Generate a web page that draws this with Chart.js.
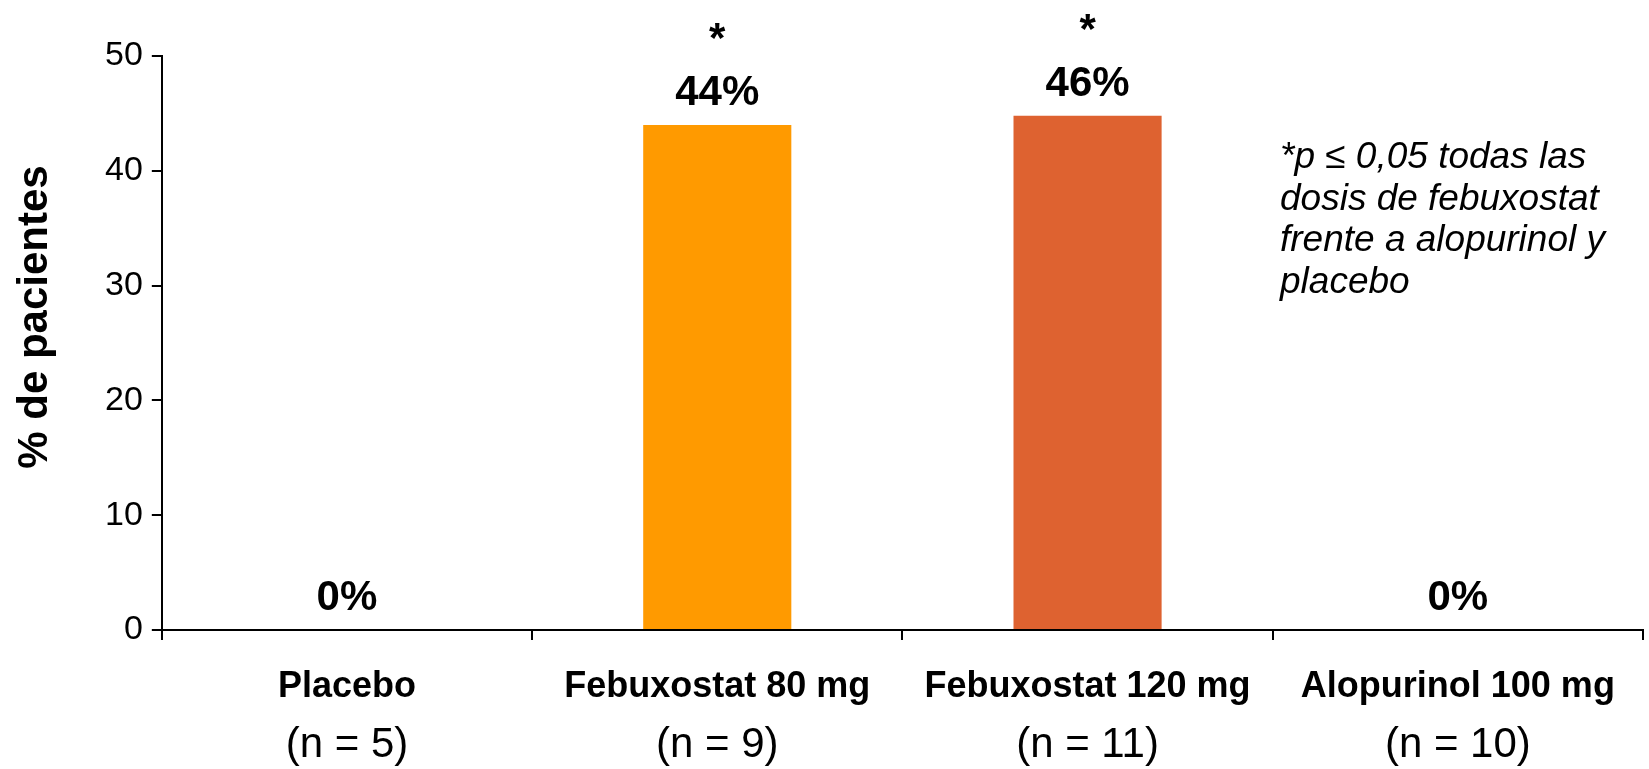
<!DOCTYPE html>
<html lang="es">
<head>
<meta charset="utf-8">
<title>% de pacientes</title>
<script src="https://cdn.jsdelivr.net/npm/chart.js@4.4.1/dist/chart.umd.min.js"></script>
<style>
  html, body { margin: 0; padding: 0; background: #fff; }
  #grafico { display: block; }
</style>
</head>
<body>
<canvas id="grafico" width="1649" height="769"></canvas>
<script>
// Datos del gráfico
const grupos = ['Placebo', 'Febuxostat 80 mg', 'Febuxostat 120 mg', 'Alopurinol 100 mg'];
const pacientesN = ['(n = 5)', '(n = 9)', '(n = 11)', '(n = 10)'];
const porcentajes = [0, 44, 44.8, 0];
const etiquetasValor = ['0%', '44%', '46%', '0%'];
const significancia = ['', '*', '*', ''];
const ticksY = [0, 10, 20, 30, 40, 50];
const tituloY = '% de pacientes';
const notaAlPie = ['*p \u2264 0,05 todas las', 'dosis de febuxostat', 'frente a alopurinol y', 'placebo'];

const coloresBarras = ['#FF9A00', '#FF9A00', '#DE6230', '#DE6230'];
const FUENTE = '"Liberation Sans", Arial, Helvetica, sans-serif';

Chart.defaults.font.family = FUENTE;
Chart.defaults.color = '#000';

// Etiquetas de valor y asteriscos encima de cada barra
const etiquetasPlugin = {
    id: 'etiquetas',
    afterDatasetsDraw(chart) {
        const ctx = chart.ctx;
        const meta = chart.getDatasetMeta(0);
        ctx.save();
        ctx.fillStyle = '#000';
        ctx.textAlign = 'center';
        ctx.textBaseline = 'alphabetic';
        ctx.font = 'bold 42px ' + FUENTE;
        meta.data.forEach((barra, i) => {
            const base = barra.y - 20;
            ctx.fillText(etiquetasValor[i], barra.x, base);
            if (significancia[i]) {
                ctx.fillText(significancia[i], barra.x, base - 53);
            }
        });
        ctx.restore();
    }
};

// Título del eje Y y nota al pie
const textosPlugin = {
    id: 'textos',
    afterDraw(chart) {
        const ctx = chart.ctx;
        const area = chart.chartArea;

        ctx.save();
        ctx.fillStyle = '#000';
        ctx.font = 'bold 42px ' + FUENTE;
        ctx.translate(47, (area.top + area.bottom) / 2 - 26);
        ctx.rotate(-Math.PI / 2);
        ctx.textAlign = 'center';
        ctx.textBaseline = 'alphabetic';
        ctx.fillText(tituloY, 0, 0);
        ctx.restore();

        ctx.save();
        ctx.fillStyle = '#000';
        ctx.font = 'italic 37px ' + FUENTE;
        ctx.textAlign = 'left';
        ctx.textBaseline = 'alphabetic';
        notaAlPie.forEach((linea, i) => {
            ctx.fillText(linea, 1280, 168 + i * 41.7);
        });
        ctx.restore();
    }
};

new Chart(document.getElementById('grafico'), {
    type: 'bar',
    data: {
        labels: grupos,
        datasets: [
            {
                data: porcentajes,
                backgroundColor: coloresBarras,
                categoryPercentage: 1,
                barPercentage: 0.4,
            }
        ]
    },
    options: {
        responsive: false,
        animation: false,
        layout: {
            padding: { left: 96, right: 6, top: 56, bottom: 0 }
        },
        plugins: {
            legend: { display: false },
            tooltip: { enabled: false },
        },
        scales: {
            x: {
                position: 'bottom',
                afterFit: (scale) => { scale.height = 77; },
                grid: {
                    offset: true,
                    drawOnChartArea: false,
                    drawTicks: true,
                    tickLength: 10,
                    color: '#000',
                    lineWidth: 2,
                },
                border: { color: '#000', width: 2 },
                ticks: {
                    color: '#000',
                    padding: 25,
                    font: { size: 36, weight: 'bold' },
                    maxRotation: 0,
                    autoSkip: false,
                }
            },
            x2: {
                type: 'category',
                labels: pacientesN,
                position: 'bottom',
                afterFit: (scale) => { scale.height = 62; },
                grid: { display: false, drawTicks: false },
                border: { display: false },
                ticks: {
                    color: '#000',
                    padding: 13,
                    font: { size: 42 },
                    maxRotation: 0,
                    autoSkip: false,
                }
            },
            y: {
                min: ticksY[0],
                max: ticksY[ticksY.length - 1],
                afterBuildTicks: (scale) => {
                    scale.ticks = ticksY.map(v => ({ value: v }));
                },
                grid: {
                    drawOnChartArea: false,
                    tickLength: 10,
                    color: '#000',
                    lineWidth: 2,
                },
                border: { color: '#000', width: 2 },
                ticks: {
                    color: '#000',
                    padding: 9,
                    font: { size: 34 },
                }
            }
        }
    },
    plugins: [etiquetasPlugin, textosPlugin]
});
</script>
</body>
</html>
